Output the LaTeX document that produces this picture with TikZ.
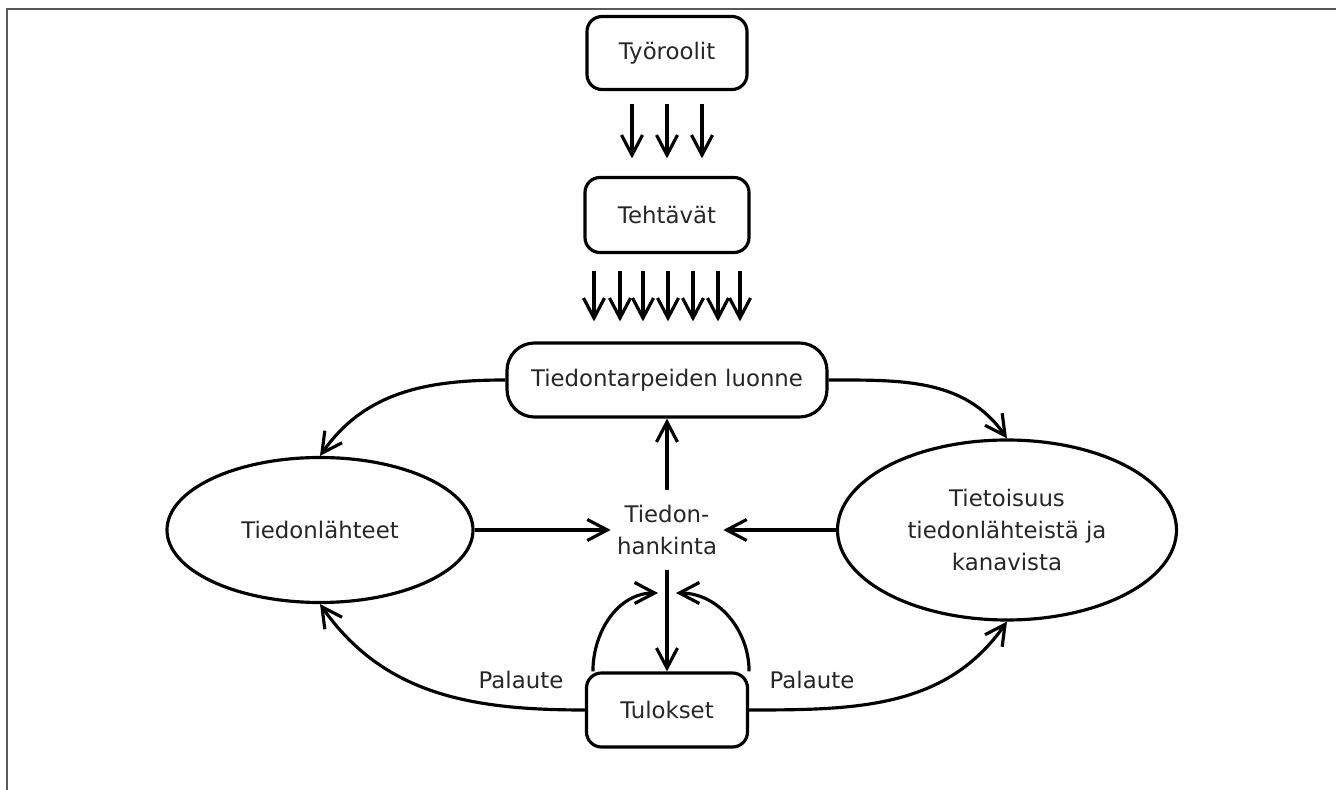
\documentclass[tikz,border=0pt]{standalone}
\usepackage{fontspec}
\setmainfont{DejaVu Sans}
\usetikzlibrary{shapes.geometric,arrows.meta}

\begin{document}
\begin{tikzpicture}[
  box/.style={draw,rounded corners=0.3cm,line width=1.8pt,minimum width=3.2cm,minimum height=1.46cm},
  oval/.style={draw,ellipse,line width=1.8pt,align=center},
  arr/.style={-{Straight Barb[length=4mm,width=4.2mm]},line width=1.8pt},
  font=\fontsize{13}{18}\selectfont,text=black!85]
\useasboundingbox (0,0) rectangle (26.72,-15.8);
\draw[black!65,line width=0.05cm] (0.14,-15.8) -- (0.14,-0.18) -- (26.72,-0.18);
\node[box] (TR)at(13.34,-1.06){Työroolit};
\node[box,minimum width=3.28cm,minimum height=1.5cm] (TE)at(13.34,-4.3){Tehtävät};
\node[box,rounded corners=0.55cm,minimum width=6.4cm,minimum height=1.48cm] (TL)at(13.34,-7.6){Tiedontarpeiden luonne};
\node[oval,minimum width=6.12cm,minimum height=2.9cm] (LA)at(6.4,-10.6){Tiedonlähteet};
\node[oval,minimum width=6.78cm,minimum height=3.6cm] (TI)at(20.14,-10.6){Tietoisuus\\tiedonlähteistä ja\\kanavista};
\node[align=center,inner xsep=0.12cm,inner ysep=0.3cm] (TH)at(13.34,-10.6){Tiedon-\\hankinta};
\node[box,minimum width=3.22cm,minimum height=1.48cm] (TU)at(13.34,-14.2){Tulokset};
\coordinate (FV)at(13.16,-11.86);
\coordinate (FO)at(13.52,-11.86);
\foreach \dx in {-0.7,0,0.7}
  \draw[arr,shorten <=0.26cm,shorten >=0.35cm] ([xshift=\dx cm]TR.south) -- ([xshift=\dx cm]TE.north);
\foreach \dx in {-1.46,-0.94,-0.48,0.02,0.52,1.02,1.46}
  \draw[arr,shorten <=0.34cm,shorten >=0.4cm] ([xshift=\dx cm]TE.south) -- ([xshift=\dx cm]TL.north);
\draw[arr] (TH) -- (TL);
\draw[arr] (TH) -- (TU);
\draw[arr] (LA) -- (TH);
\draw[arr] (TI) -- (TH);
\draw[arr] (TL.west) to[out=180,in=55] (LA.north);
\draw[arr] (TL.east) to[out=0,in=125] (TI.north);
\draw[arr] (TU.west) to[out=180,in=-55] (LA.south);
\draw[arr] (TU.east) to[out=0,in=-125] (TI.south);
\draw[arr] ([xshift=0.16cm]TU.north west) to[out=90,in=180] (FV);
\draw[arr] (TU.north east) to[out=90,in=0] (FO);
\node (PV)at(10.42,-13.6){Palaute};
\node (PO)at(16.24,-13.6){Palaute};
\end{tikzpicture}
\end{document}
